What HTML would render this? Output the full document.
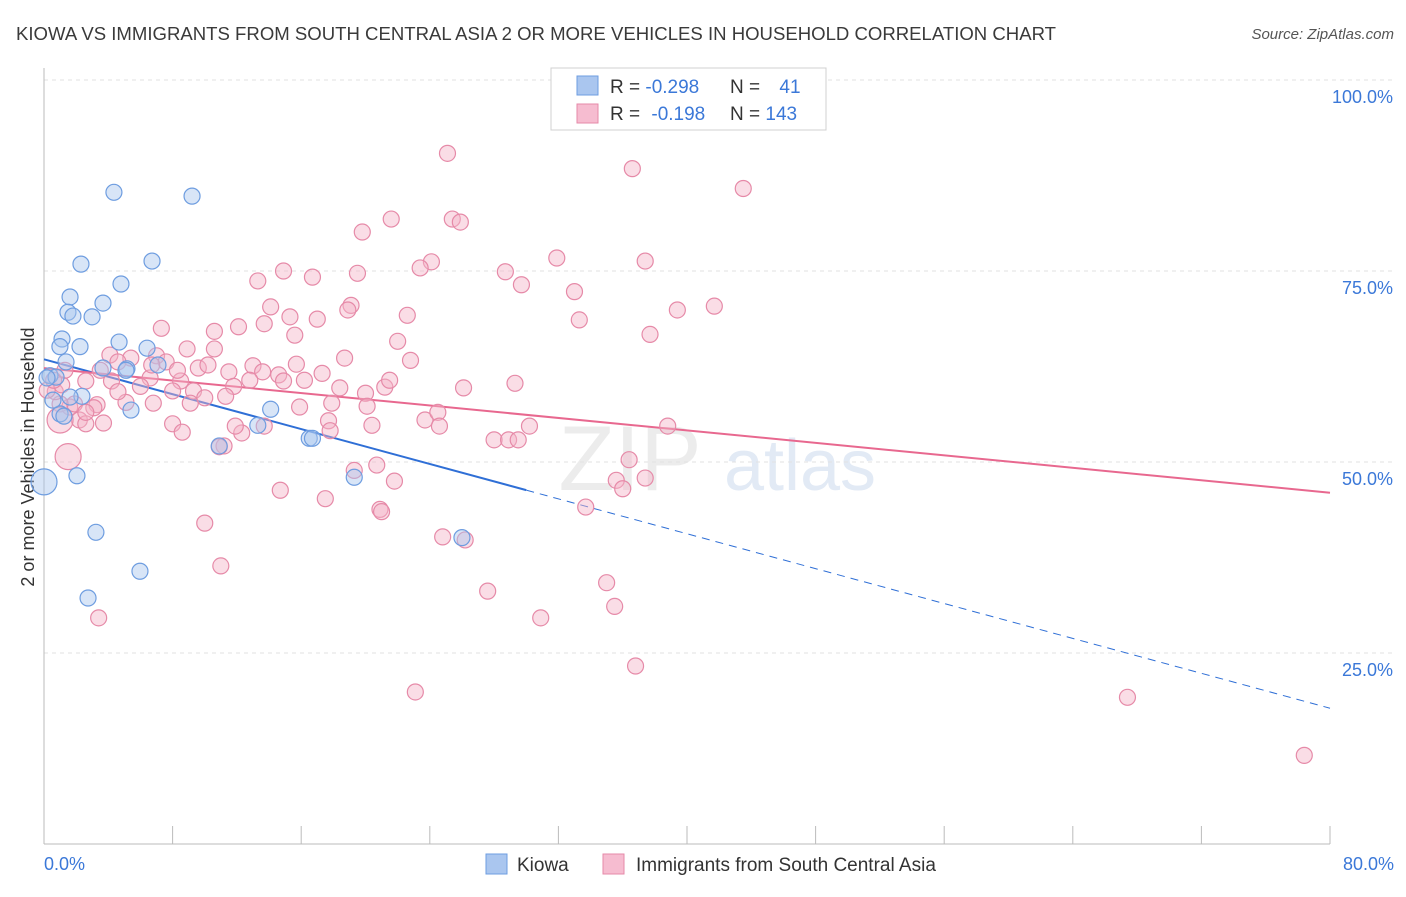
<!DOCTYPE html>
<html><head><meta charset="utf-8">
<style>
body{margin:0;background:#fff;font-family:"Liberation Sans",sans-serif;}
svg text{font-family:"Liberation Sans",sans-serif;}
</style></head>
<body>
<svg id="chart" width="1406" height="892" xmlns="http://www.w3.org/2000/svg">
<text x="16" y="40" font-size="18.5" textLength="1040" lengthAdjust="spacingAndGlyphs" fill="#3a3a3a">KIOWA VS IMMIGRANTS FROM SOUTH CENTRAL ASIA 2 OR MORE VEHICLES IN HOUSEHOLD CORRELATION CHART</text>
<text x="1394" y="39" font-size="15" fill="#555" text-anchor="end" font-style="italic">Source: ZipAtlas.com</text>
<text x="0" y="0" transform="translate(34,457) rotate(-90)" font-size="18" fill="#333" text-anchor="middle">2 or more Vehicles in Household</text>
<g><text x="630" y="490" font-size="92" fill="#ececec" text-anchor="middle" font-family="Liberation Serif">ZIP</text><text x="800" y="490" font-size="72" fill="#e2eaf5" text-anchor="middle">atlas</text></g>
<g id="grid"></g><g id="axes"></g><g id="lines"></g><g id="pts"></g>
<g>
<rect x="551" y="68" width="275" height="62" fill="#fff" stroke="#d0d0d0"/>
<rect x="577" y="76" width="21" height="19" fill="#aac6ef" stroke="#6e9de0"/>
<rect x="577" y="104" width="21" height="19" fill="#f6bcd0" stroke="#e68aa8"/>
<text x="610" y="93" font-size="19" fill="#333">R = <tspan fill="#3b78d8">-0.298</tspan></text>
<text x="730" y="93" font-size="19" fill="#333">N = <tspan fill="#3b78d8" dx="14">41</tspan></text>
<text x="610" y="120" font-size="19" fill="#333">R = <tspan fill="#3b78d8" dx="6">-0.198</tspan></text>
<text x="730" y="120" font-size="19" fill="#333">N = <tspan fill="#3b78d8">143</tspan></text>
</g>
<g>
<rect x="486" y="854" width="21" height="20" fill="#aac6ef" stroke="#6e9de0"/>
<text x="517" y="871" font-size="19" fill="#333">Kiowa</text>
<rect x="603" y="854" width="21" height="20" fill="#f6bcd0" stroke="#e68aa8"/>
<text x="636" y="871" font-size="19" fill="#333">Immigrants from South Central Asia</text>
</g>
</svg>
<script>
const yTicks=[25,50,75,100];
const xTickLabels=["0.0%","80.0%"];
const blueX=[4.35,9.21,2.30,6.72,4.79,1.62,3.67,1.49,1.80,2.99,1.12,4.67,0.99,2.24,6.41,1.37,7.09,3.67,5.16,0.37,0.75,2.36,1.62,1.0,1.24,5.41,14.1,13.3,16.5,16.7,10.9,0,2.05,19.3,26.0,3.23,5.97,2.74,0.19,0.56,5.1];
const blueY=[85.3,84.8,75.9,76.3,73.3,71.6,70.8,69.6,69.1,69.0,66.1,65.7,65.1,65.1,64.9,63.1,62.7,62.3,62.2,61.3,61.1,58.6,58.5,56.3,56.0,56.8,56.9,54.8,53.1,53.1,52.1,47.4,48.2,48.0,40.1,40.8,35.7,32.2,61.0,58.1,62.0];
const pinkX=[25.1,36.6,43.5,21.6,25.4,25.9,19.8,31.9,37.4,24.1,23.4,28.7,19.5,14.9,16.7,13.3,29.7,33.0,19.1,14.1,41.7,39.4,18.9,33.3,22.6,15.3,17.0,7.3,12.1,10.6,13.7,15.6,37.7,22.0,4.1,5.4,7.0,8.9,10.6,18.7,13.0,17.3,16.2,11.5,9.6,10.2,13.6,14.6,12.8,8.5,4.6,6.6,4.2,6.0,2.6,8.0,9.3,11.8,14.9,18.4,21.2,21.5,26.1,29.3,5.1,17.9,20.0,20.1,8.0,8.6,9.1,11.3,6.8,1.6,1.9,3.3,3.1,2.2,2.6,3.7,2.6,1.0,0.7,0.2,1.1,12.3,11.9,13.7,15.9,17.7,17.8,20.4,23.7,24.5,24.6,28.0,28.9,29.5,30.2,38.8,11.2,10.9,36.4,37.4,35.6,36.0,19.3,20.7,21.8,14.7,17.5,20.9,21.0,33.7,10.0,24.8,26.2,11.0,35.0,27.6,35.5,30.9,3.4,36.8,23.1,67.4,78.4,1.5,1.0,0.6,1.3,3.5,4.6,7.6,10.0,6.7,15.7,22.8,8.3];
const pinkY=[90.4,88.4,85.8,81.8,81.8,81.4,80.1,76.7,76.3,76.2,75.4,74.9,74.7,75.0,74.2,73.7,73.2,72.3,70.5,70.3,70.4,69.9,69.9,68.6,69.2,69.0,68.7,67.5,67.7,67.1,68.1,66.6,66.7,65.8,64.0,63.6,63.9,64.8,64.8,63.6,62.6,61.6,60.7,61.8,62.3,62.7,61.8,61.4,60.7,60.6,63.1,61.0,60.6,59.9,60.6,59.3,59.3,59.9,60.6,59.7,59.8,60.7,59.7,60.3,57.8,57.7,59.0,57.3,55.0,53.9,57.7,58.6,57.7,57.2,57.6,57.5,57.1,55.5,55.0,55.1,56.5,57.6,59.2,59.4,60.1,53.8,54.7,54.7,57.2,55.4,54.1,54.8,55.5,56.5,54.7,52.9,52.9,52.9,54.7,54.7,52.1,52.0,50.3,47.9,47.6,46.5,48.9,49.6,47.5,46.3,45.2,43.8,43.5,44.1,42.0,40.2,39.8,36.4,34.2,33.1,31.1,29.6,29.6,23.3,19.9,19.2,11.6,50.7,55.5,60.7,62.0,62.0,59.2,63.1,58.4,62.7,62.8,63.3,62.0];
const bigBlue=[31];const bigPink=[127,128];
const X0=44,X1=1330,Y0=844,Y100=80;
const sx=v=>X0+(X1-X0)*v/80, sy=v=>Y0-(Y0-Y100)*v/100;
const NS="http://www.w3.org/2000/svg";
function mk(p,t,a){const e=document.createElementNS(NS,t);for(const k in a)e.setAttribute(k,a[k]);p.appendChild(e);return e;}
const grid=document.getElementById('grid'),axes=document.getElementById('axes');
yTicks.forEach(t=>{
 const l=mk(grid,'line',{x1:X0,x2:1394,y1:sy(t),y2:sy(t),stroke:'#e2e2e2','stroke-dasharray':'4,4'});
 
 
 const tx=mk(axes,'text',{x:1393,y:sy(t)+23,'font-size':18,fill:'#3b78d8','text-anchor':'end'});
 tx.textContent=t.toFixed(1)+'%';
 
 
});
const ya=mk(axes,'line',{x1:X0,x2:X0,y1:68,y2:Y0,stroke:'#bbb'});


const xa=mk(axes,'line',{x1:X0,x2:X1,y1:Y0,y2:Y0,stroke:'#bbb'});


for(let i=0;i<=10;i++){const tk=mk(axes,'line',{x1:sx(i*8),x2:sx(i*8),y1:Y0,y2:Y0-18,stroke:'#bbb'});
 
 }
[[0,'start',44],[1,'end',1394]].forEach(([i,a,x])=>{const t=mk(axes,'text',{x:x,y:870,'font-size':18,fill:'#3b78d8','text-anchor':a});t.textContent=xTickLabels[i];
 
 });
function reg(xs,ys){const n=xs.length;let mx=0,my=0;for(let i=0;i<n;i++){mx+=xs[i];my+=ys[i];}mx/=n;my/=n;let sxy=0,sxx=0;for(let i=0;i<n;i++){sxy+=(xs[i]-mx)*(ys[i]-my);sxx+=(xs[i]-mx)**2;}const b=sxy/sxx;return [my-b*mx,b];}
const pts=document.getElementById('pts'),lines=document.getElementById('lines');
function dots(xs,ys,big,fill,stroke,name){xs.forEach((x,i)=>{const c=mk(pts,'circle',{cx:sx(x),cy:sy(ys[i]),r:big.includes(i)?13:8,fill:fill,'fill-opacity':0.45,stroke:stroke,'stroke-width':1.2});
 
 });}
dots(pinkX,pinkY,bigPink,'#f4b3c8','#e68aa8','immigrants-point');
dots(blueX,blueY,bigBlue,'#a9c5ee','#6e9de0','kiowa-point');
const [ba,bb]=reg(blueX,blueY),[pa,pb]=reg(pinkX,pinkY);
const bs=mk(lines,'line',{x1:sx(0),y1:sy(ba),x2:sx(30),y2:sy(ba+bb*30),stroke:'#2f6fd6','stroke-width':2});


const bd=mk(lines,'line',{x1:sx(30),y1:sy(ba+bb*30),x2:sx(80),y2:sy(ba+bb*80),stroke:'#2f6fd6','stroke-width':1,'stroke-dasharray':'8,6'});


const pl=mk(lines,'line',{x1:sx(0),y1:sy(pa),x2:sx(80),y2:sy(pa+pb*80),stroke:'#e8688f','stroke-width':2});


</script>
</body></html>
